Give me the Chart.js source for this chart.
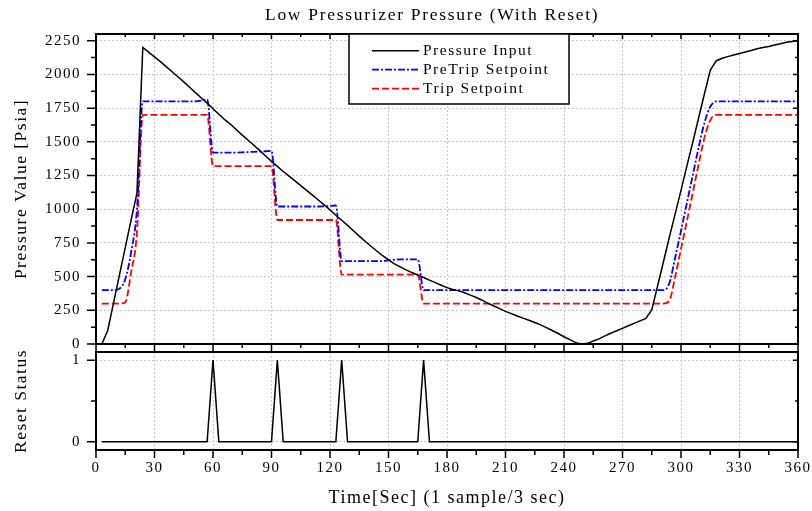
<!DOCTYPE html>
<html>
<head>
<meta charset="utf-8">
<title>Low Pressurizer Pressure (With Reset)</title>
<script src="https://cdn.jsdelivr.net/npm/chart.js@4.4.1/dist/chart.umd.min.js"></script>
<style>
  html, body { margin: 0; padding: 0; background: #fff; }
  #wrap { position: relative; width: 812px; height: 511px; overflow: hidden; }
  #wrap canvas { position: absolute; left: 0; }
  #graficoPressao { top: 0; }
  #graficoReset { top: 344px; }
</style>
</head>
<body>
<div id="wrap">
  <canvas id="graficoPressao" width="812" height="352"></canvas>
  <canvas id="graficoReset" width="812" height="167"></canvas>
</div>
<script>
/* ================= DADOS ================= */
// tempo em segundos (1 amostra a cada 3 s)
const tempos = [
  3, 6, 9, 12, 15, 18, 21, 24, 27, 30,
  33, 36, 39, 42, 45, 48, 51, 54, 57, 60,
  63, 66, 69, 72, 75, 78, 81, 84, 87, 90,
  93, 96, 99, 102, 105, 108, 111, 114, 117, 120,
  123, 126, 129, 132, 135, 138, 141, 144, 147, 150,
  153, 156, 159, 162, 165, 168, 171, 174, 177, 180,
  183, 186, 189, 192, 195, 198, 201, 204, 207, 210,
  213, 216, 219, 222, 225, 228, 231, 234, 237, 240,
  243, 246, 249, 252, 255, 258, 261, 264, 267, 270,
  273, 276, 279, 282, 285, 288, 291, 294, 297, 300,
  303, 306, 309, 312, 315, 318, 321, 324, 327, 330,
  333, 336, 339, 342, 345, 348, 351, 354, 357, 360
];

const pressao = [
  0, 100, 305, 510, 715, 920, 1120, 2200, 2165, 2130,
  2095, 2058, 2020, 1983, 1945, 1905, 1865, 1825, 1787, 1745,
  1705, 1665, 1630, 1590, 1550, 1512, 1475, 1435, 1395, 1355,
  1318, 1280, 1245, 1210, 1175, 1140, 1105, 1068, 1032, 995,
  955, 918, 880, 840, 800, 762, 725, 690, 655, 625,
  595, 572, 550, 530, 512, 493, 474, 455, 436, 418,
  405, 394, 380, 363, 345, 325, 302, 282, 262, 242,
  225, 208, 192, 176, 160, 142, 122, 100, 78, 54,
  32, 10, 0, 5, 22, 38, 60, 80, 98, 116,
  135, 153, 172, 190, 252, 430, 610, 790, 965, 1140,
  1320, 1495, 1675, 1855, 2030, 2100, 2120, 2132, 2144, 2156,
  2167, 2178, 2190, 2200, 2207, 2218, 2228, 2238, 2245, 2250
];

const preTrip = [
  400, 400, 400, 410, 480, 680, 1000, 1800, 1800, 1800,
  1800, 1800, 1800, 1800, 1800, 1800, 1800, 1805, 1815, 1420,
  1420, 1420, 1420, 1420, 1422, 1424, 1426, 1428, 1430, 1432,
  1020, 1020, 1020, 1020, 1020, 1020, 1020, 1020, 1022, 1024,
  1028, 615, 615, 615, 615, 615, 615, 615, 615, 620,
  625, 628, 628, 628, 628, 400, 400, 400, 400, 400,
  400, 400, 400, 400, 400, 400, 400, 400, 400, 400,
  400, 400, 400, 400, 400, 400, 400, 400, 400, 400,
  400, 400, 400, 400, 400, 400, 400, 400, 400, 400,
  400, 400, 400, 400, 400, 400, 400, 450, 640, 840,
  1045, 1250, 1455, 1640, 1760, 1800, 1800, 1800, 1800, 1800,
  1800, 1800, 1800, 1800, 1800, 1800, 1800, 1800, 1800, 1800
];

const trip = [
  300, 300, 300, 300, 310, 530, 830, 1700, 1700, 1700,
  1700, 1700, 1700, 1700, 1700, 1700, 1700, 1700, 1700, 1320,
  1320, 1320, 1320, 1320, 1320, 1320, 1320, 1320, 1320, 1320,
  920, 920, 920, 920, 920, 920, 920, 920, 920, 920,
  920, 515, 515, 515, 515, 515, 515, 515, 515, 515,
  515, 515, 515, 515, 515, 300, 300, 300, 300, 300,
  300, 300, 300, 300, 300, 300, 300, 300, 300, 300,
  300, 300, 300, 300, 300, 300, 300, 300, 300, 300,
  300, 300, 300, 300, 300, 300, 300, 300, 300, 300,
  300, 300, 300, 300, 300, 300, 300, 320, 500, 705,
  910, 1120, 1330, 1530, 1660, 1700, 1700, 1700, 1700, 1700,
  1700, 1700, 1700, 1700, 1700, 1700, 1700, 1700, 1700, 1700
];

const resetStatus = [
  0, 0, 0, 0, 0, 0, 0, 0, 0, 0,
  0, 0, 0, 0, 0, 0, 0, 0, 0, 1,
  0, 0, 0, 0, 0, 0, 0, 0, 0, 0,
  1, 0, 0, 0, 0, 0, 0, 0, 0, 0,
  0, 1, 0, 0, 0, 0, 0, 0, 0, 0,
  0, 0, 0, 0, 0, 1, 0, 0, 0, 0,
  0, 0, 0, 0, 0, 0, 0, 0, 0, 0,
  0, 0, 0, 0, 0, 0, 0, 0, 0, 0,
  0, 0, 0, 0, 0, 0, 0, 0, 0, 0,
  0, 0, 0, 0, 0, 0, 0, 0, 0, 0,
  0, 0, 0, 0, 0, 0, 0, 0, 0, 0,
  0, 0, 0, 0, 0, 0, 0, 0, 0, 0
];

const ticksPressao = [0, 250, 500, 750, 1000, 1250, 1500, 1750, 2000, 2250];
const ticksReset = [0, 1];

/* ================= ESTILO GERAL ================= */
const fonte = '"Liberation Serif", "Times New Roman", serif';
Chart.defaults.font.family = fonte;
Chart.defaults.color = "#000";

// espaçamento entre letras, como no original
Chart.register({
  id: "espacamento",
  beforeDraw(chart) { chart.ctx.letterSpacing = "1.5px"; }
});

function pontos(valores) {
  return tempos.map((t, i) => ({ x: t, y: valores[i] }));
}

/* ================= TÍTULO ================= */
// o título do original não fica centrado no canvas
const tituloPlugin = {
  id: "titulo",
  afterDraw(chart, args, o) {
    const ctx = chart.ctx;
    ctx.save();
    ctx.letterSpacing = o.espaco;
    ctx.font = o.tamanho + "px " + fonte;
    ctx.fillStyle = "#000";
    ctx.textAlign = "left";
    ctx.textBaseline = "alphabetic";
    ctx.fillText(o.texto, o.x, o.y);
    ctx.restore();
  }
};

/* ================= MOLDURA E TICKS ================= */
const molduraPlugin = {
  id: "moldura",
  afterDatasetsDraw(chart, args, o) {
    const { ctx, chartArea: a, scales } = chart;
    const x = scales.x, y = scales.y;
    ctx.save();
    ctx.strokeStyle = "#000";
    ctx.lineWidth = 1.5;
    ctx.setLineDash([]);
    ctx.beginPath();
    for (let v = 0; v <= 360; v += 15) {
      const px = x.getPixelForValue(v);
      const maior = v % 30 === 0;
      ctx.moveTo(px, a.bottom);
      ctx.lineTo(px, a.bottom + (maior ? o.xFora[0] : o.xFora[1]));
      if (o.xTopo) {
        ctx.moveTo(px, a.top);
        ctx.lineTo(px, a.top + (maior ? 5 : 3));
      }
    }
    for (let v = o.yMin; v <= o.yMax + 1e-6; v += o.yPasso) {
      const py = y.getPixelForValue(v);
      const r = v / (2 * o.yPasso);
      const maior = Math.abs(r - Math.round(r)) < 1e-6;
      ctx.moveTo(a.left, py);
      ctx.lineTo(a.left - (maior ? 9 : 5), py);
      ctx.moveTo(a.right, py);
      ctx.lineTo(a.right - (maior ? 5 : 3), py);
    }
    ctx.stroke();
    ctx.lineWidth = 2;
    ctx.strokeRect(a.left, a.top, a.right - a.left, a.bottom - a.top);
    ctx.restore();
  }
};

/* ================= LEGENDA ================= */
const legendaPlugin = {
  id: "legendaCaixa",
  afterDraw(chart, args, o) {
    const ctx = chart.ctx;
    ctx.save();
    ctx.fillStyle = "#fff";
    ctx.fillRect(o.x, o.y, o.w, o.h);
    ctx.strokeStyle = "#000";
    ctx.lineWidth = 1.5;
    ctx.strokeRect(o.x, o.y, o.w, o.h);
    ctx.font = "15.5px " + fonte;
    ctx.textBaseline = "middle";
    chart.data.datasets.forEach((ds, i) => {
      const yy = o.y + o.primeira + i * o.linha;
      ctx.strokeStyle = ds.borderColor;
      ctx.lineWidth = ds.borderWidth;
      ctx.setLineDash(ds.borderDash || []);
      ctx.beginPath();
      ctx.moveTo(o.x + 23, yy);
      ctx.lineTo(o.x + 70, yy);
      ctx.stroke();
      ctx.setLineDash([]);
      ctx.fillStyle = "#000";
      ctx.fillText(ds.label, o.x + 74, yy);
    });
    ctx.restore();
  }
};

// eixo sem folga extra para os rótulos
function eixoY(s) {
  s.width = 96;
  s.paddingTop = 0;
  s.paddingBottom = 0;
}

const rotulo = v => String(v);

/* ================= GRÁFICO DE PRESSÃO ================= */
new Chart(document.getElementById("graficoPressao"), {
  type: "line",
  data: {
    datasets: [
      {
        label: "Pressure Input",
        data: pontos(pressao),
        borderColor: "#000",
        borderWidth: 1.5,
        pointRadius: 0,
        tension: 0
      },
      {
        label: "PreTrip Setpoint",
        data: pontos(preTrip),
        borderColor: "#0000ff",
        borderWidth: 1.8,
        borderDash: [7, 2, 2, 2],
        pointRadius: 0,
        cubicInterpolationMode: "monotone"
      },
      {
        label: "Trip Setpoint",
        data: pontos(trip),
        borderColor: "#ff0000",
        borderWidth: 1.8,
        borderDash: [7, 3],
        pointRadius: 0,
        cubicInterpolationMode: "monotone"
      }
    ]
  },
  options: {
    responsive: false,
    animation: false,
    devicePixelRatio: 1,
    layout: { padding: { left: 0, right: 14, top: 34, bottom: 0 } },
    plugins: {
      legend: { display: false },
      tooltip: { enabled: false },
      title: { display: false },
      titulo: {
        texto: "Low Pressurizer Pressure (With Reset)",
        tamanho: 17.5,
        espaco: "1.7px",
        x: 265,
        y: 19.5
      },
      moldura: { xFora: [7, 4], xTopo: true, yMin: 0, yMax: 2250, yPasso: 125 },
      legendaCaixa: { x: 349, y: 34, w: 220, h: 70, primeira: 16.7, linha: 19 }
    },
    scales: {
      x: {
        type: "linear",
        min: 0,
        max: 360,
        ticks: { display: false, stepSize: 30 },
        grid: { drawTicks: false, color: "#c4c4c4", lineWidth: 1 },
        border: { display: false, dash: [2, 2] },
        afterFit: s => { s.height = 8; s.paddingLeft = 0; s.paddingRight = 0; }
      },
      y: {
        type: "linear",
        min: 0,
        max: 2300,
        afterBuildTicks: s => { s.ticks = ticksPressao.map(v => ({ value: v })); },
        ticks: { font: { size: 15 }, padding: 15, callback: rotulo },
        grid: { drawTicks: false, color: "#c4c4c4", lineWidth: 1 },
        border: { display: false, dash: [2, 2] },
        title: {
          display: true,
          text: "Pressure Value [Psia]",
          font: { size: 17.5 },
          padding: { top: 10.5 }
        },
        afterFit: eixoY
      }
    }
  },
  plugins: [molduraPlugin, legendaPlugin, tituloPlugin]
});

/* ================= GRÁFICO DE RESET ================= */
new Chart(document.getElementById("graficoReset"), {
  type: "line",
  data: {
    datasets: [
      {
        label: "Reset Status",
        data: pontos(resetStatus),
        borderColor: "#000",
        borderWidth: 1.5,
        pointRadius: 0,
        tension: 0
      }
    ]
  },
  options: {
    responsive: false,
    animation: false,
    devicePixelRatio: 1,
    layout: { padding: { left: 0, right: 14, top: 8, bottom: 0 } },
    plugins: {
      legend: { display: false },
      tooltip: { enabled: false },
      moldura: { xFora: [8, 5], xTopo: false, yMin: 0, yMax: 1, yPasso: 0.5 }
    },
    scales: {
      x: {
        type: "linear",
        min: 0,
        max: 360,
        ticks: { stepSize: 30, font: { size: 15 }, padding: 9, maxRotation: 0, callback: rotulo },
        grid: { drawTicks: false, color: "#c4c4c4", lineWidth: 1 },
        border: { display: false, dash: [2, 2] },
        title: {
          display: true,
          text: "Time[Sec] (1 sample/3 sec)",
          font: { size: 18 },
          padding: { top: 0, bottom: 1.7 }
        },
        afterFit: s => { s.height = 61; s.paddingLeft = 0; s.paddingRight = 0; }
      },
      y: {
        type: "linear",
        min: -0.1,
        max: 1.1,
        afterBuildTicks: s => { s.ticks = ticksReset.map(v => ({ value: v })); },
        ticks: { font: { size: 15 }, padding: 15, callback: rotulo },
        grid: { drawTicks: false, color: "#c4c4c4", lineWidth: 1 },
        border: { display: false, dash: [2, 2] },
        title: {
          display: true,
          text: "Reset Status",
          font: { size: 17.5 },
          padding: { top: 10.5 }
        },
        afterFit: eixoY
      }
    }
  },
  plugins: [molduraPlugin]
});
</script>
</body>
</html>
